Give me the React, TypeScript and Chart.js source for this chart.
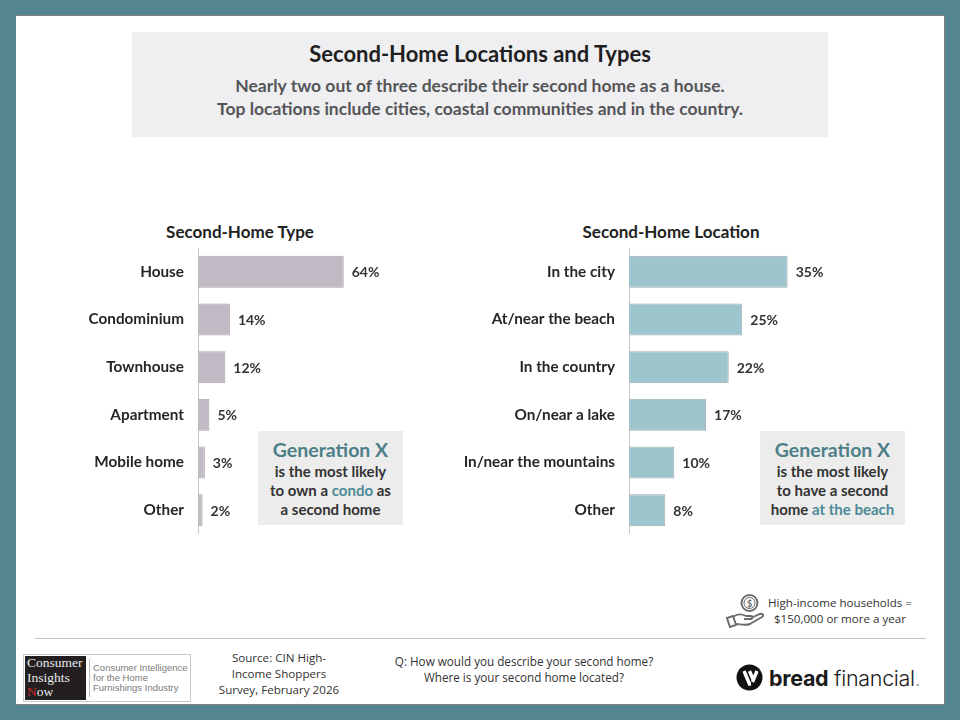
import React, { useEffect, useRef } from "react";
import { Chart, registerables } from "chart.js";

Chart.register(...registerables);

const typeCategories = ["House", "Condominium", "Townhouse", "Apartment", "Mobile home", "Other"];
const typeValues = [64, 14, 12, 5, 3, 2];
const locationCategories = ["In the city", "At/near the beach", "In the country", "On/near a lake", "In/near the mountains", "Other"];
const locationValues = [35, 25, 22, 17, 10, 8];

const FONT = "Lato, sans-serif";
const BODY_FONT = "'Open Sans', sans-serif";

const valueLabels = {
  id: "valueLabels",
  afterDatasetsDraw(chart: any) {
    const { ctx } = chart;
    const meta = chart.getDatasetMeta(0);
    ctx.save();
    ctx.font = `bold 14px ${FONT}`;
    ctx.fillStyle = "#333333";
    ctx.textAlign = "left";
    ctx.textBaseline = "middle";
    meta.data.forEach((bar: any, i: number) => {
      ctx.fillText(`${chart.data.datasets[0].data[i]}%`, bar.x + 8, bar.y + 1);
    });
    ctx.restore();
  },
};

function Bars({ left, width, labelWidth, max, categories, values, fill, border }: any) {
  const ref = useRef<HTMLCanvasElement>(null);
  useEffect(() => {
    const chart = new Chart(ref.current as HTMLCanvasElement, {
      type: "bar",
      data: {
        labels: categories,
        datasets: [{ data: values, backgroundColor: fill, borderColor: border, borderWidth: 1, categoryPercentage: 1, barPercentage: 0.67 }],
      },
      options: {
        indexAxis: "y",
        animation: false,
        responsive: false,
        layout: { padding: 0 },
        plugins: { legend: { display: false }, tooltip: { enabled: false }, title: { display: false } },
        scales: {
          x: { display: false, min: 0, max, grid: { display: false } },
          y: {
            afterFit(scale: any) {
              scale.width = labelWidth;
              scale.paddingTop = 0;
              scale.paddingBottom = 0;
            },
            grid: { display: false, drawTicks: false },
            border: { display: true, color: "#c9c9c9", width: 1 },
            ticks: { color: "#262626", padding: 14, font: { family: FONT, weight: "bold", size: 15.3 } },
          },
        },
      } as any,
      plugins: [valueLabels],
    });
    return () => chart.destroy();
  }, []);
  return <canvas ref={ref} width={width} height={286} style={{ position: "absolute", left, top: 248, width, height: 286 }} />;
}

const abs = (left: number, top: number, width: number, height: number, extra: any = {}): any => ({
  position: "absolute", left, top, width, height, ...extra,
});

function Callout({ left, width, lines }: any) {
  return (
    <div style={abs(left, 431, width, 94, { background: "#ececec", textAlign: "center", fontFamily: FONT, fontWeight: 700, color: "#333", fontSize: 15, lineHeight: "19px", whiteSpace: "nowrap" })}>
      <div style={{ color: "#4d7f88", fontSize: 19.5, lineHeight: "22px", marginTop: 8, marginBottom: 1 }}>Generation X</div>
      {lines}
    </div>
  );
}

export default function App() {
  return (
    <div style={{ position: "fixed", left: 0, top: 0, width: 960, height: 720, background: "#55858f", overflow: "hidden" }}>
      <div style={abs(16, 15, 929, 690, { background: "#7f7f7f" })} />
      <div style={abs(16, 16, 928, 688, { background: "#ffffff" })} />

      <div style={abs(132, 32, 696, 105, { background: "#efeff1", textAlign: "center", fontFamily: FONT, fontWeight: 700, whiteSpace: "nowrap" })}>
        <div style={{ fontSize: 22, lineHeight: "24px", marginTop: 10, color: "#1f1f1f" }}>Second-Home Locations and Types</div>
        <div style={{ fontSize: 17.5, lineHeight: "23px", marginTop: 8, color: "#555558" }}>
          Nearly two out of three describe their second home as a house.<br />
          Top locations include cities, coastal communities and in the country.
        </div>
      </div>

      <div style={abs(90, 222, 300, 20, { textAlign: "center", fontFamily: FONT, fontWeight: 700, fontSize: 17, lineHeight: "20px", color: "#222" })}>Second-Home Type</div>
      <div style={abs(521, 222, 300, 20, { textAlign: "center", fontFamily: FONT, fontWeight: 700, fontSize: 17, lineHeight: "20px", color: "#222" })}>Second-Home Location</div>

      <Bars left={40} width={380} labelWidth={158} max={97.5} categories={typeCategories} values={typeValues} fill="#c1bac5" border="#a6a3a9" />
      <Bars left={440} width={480} labelWidth={189} max={64.2} categories={locationCategories} values={locationValues} fill="#9ec5cd" border="#a3aeb1" />

      <Callout left={258} width={145} lines={<>is the most likely<br />to own a <span style={{ color: "#4d8a96" }}>condo</span> as<br />a second home</>} />
      <Callout left={760} width={145} lines={<>is the most likely<br />to have a second<br />home <span style={{ color: "#4d8a96" }}>at the beach</span></>} />

      <svg style={abs(724, 592, 40, 40)} viewBox="0 0 40 40" fill="none" stroke="#6b6b70" strokeWidth="1.9">
        <circle cx="25.5" cy="11" r="8" />
        <circle cx="25.5" cy="11" r="5.5" strokeWidth="1" />
        <text x="25.5" y="14.5" textAnchor="middle" fontSize="9" fontFamily="Lato" fontWeight="700" fill="#6b6b70" stroke="none">$</text>
        <path d="M3 26 L9 24 L12 33 L6 35 Z" />
        <path d="M9 25 C14 21 18 22 22 24 L27 24 C29 24 29 27 27 27 L20 27 M27 26 L36 22 C39 21 40 24 38 25 L26 32 C21 34 16 32 12 32" />
      </svg>
      <div style={abs(750, 595, 180, 32, { textAlign: "center", fontFamily: BODY_FONT, fontSize: 11.6, lineHeight: "16px", color: "#333", whiteSpace: "nowrap" })}>
        High-income households =<br />$150,000 or more a year
      </div>

      <div style={abs(35, 638, 891, 1, { background: "#c4c4c4" })} />

      <div style={abs(23, 654, 168, 48, { background: "#fff", border: "1px solid #c8c8c8", boxSizing: "border-box" })}>
        <div style={abs(1, 1, 61, 44, { background: "#231f20", color: "#e8e8e8", fontFamily: "'Liberation Serif', serif", fontSize: 13.5, lineHeight: "14.5px", paddingLeft: 2, boxSizing: "border-box", overflow: "hidden" })}>
          Consumer<br />Insights<br /><span style={{ color: "#d2232a" }}>N</span>ow
        </div>
        <div style={abs(65, 4, 1, 38, { background: "#bcbcbc" })} />
        <div style={abs(69, 8, 100, 32, { fontFamily: "'Liberation Sans', sans-serif", fontSize: 9.5, lineHeight: "10px", color: "#7a7a7a", whiteSpace: "nowrap" })}>
          Consumer Intelligence<br />for the Home<br />Furnishings Industry
        </div>
      </div>

      <div style={abs(204, 650, 150, 48, { textAlign: "center", fontFamily: BODY_FONT, fontSize: 11.6, lineHeight: "16px", color: "#333", whiteSpace: "nowrap" })}>
        Source: CIN High-<br />Income Shoppers<br />Survey, February 2026
      </div>
      <div style={abs(369, 653, 310, 32, { textAlign: "center", fontFamily: BODY_FONT, fontSize: 11.7, lineHeight: "16px", color: "#333", whiteSpace: "nowrap" })}>
        Q: How would you describe your second home?<br />Where is your second home located?
      </div>

      <svg style={abs(736, 664, 27, 27)} viewBox="0 0 27 27">
        <circle cx="13.5" cy="13.5" r="13" fill="#111" />
        <path d="M8 7 L13.5 20 L15 20 M13.5 7 L17.5 16.5 M21 7 L16.5 18" stroke="#fff" strokeWidth="3.4" fill="none" />
      </svg>
      <div style={abs(769, 664, 160, 28, { fontFamily: "Inter, sans-serif", fontSize: 21.5, lineHeight: "28px", color: "#1a1a1a", letterSpacing: "-0.3px", whiteSpace: "nowrap" })}>
        <span style={{ fontWeight: 700 }}>bread</span> <span style={{ fontWeight: 300 }}>financial<span style={{ color: "#999" }}>.</span></span>
      </div>
    </div>
  );
}
